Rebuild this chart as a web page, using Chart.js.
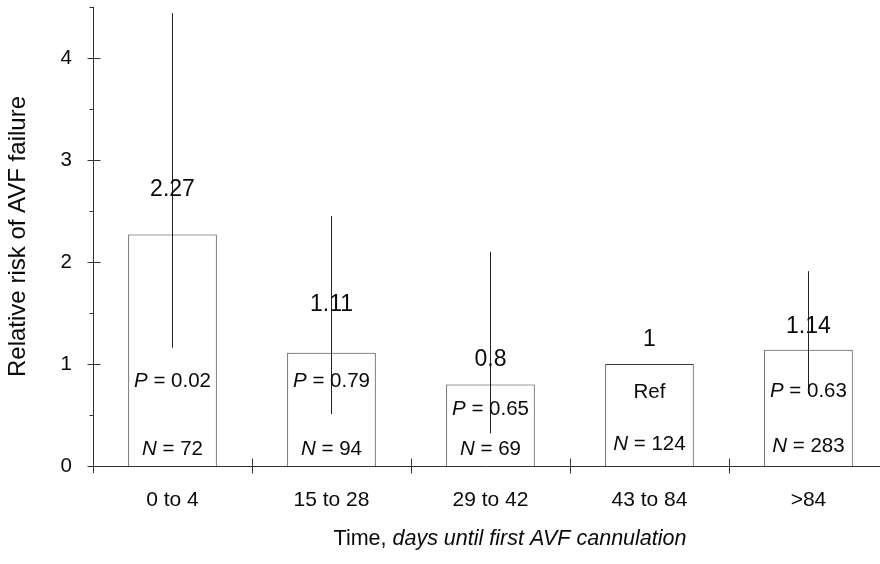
<!DOCTYPE html>
<html>
<head>
<meta charset="utf-8">
<script src="https://cdn.jsdelivr.net/npm/chart.js@4.4.1/dist/chart.umd.min.js"></script>
<style>
  html, body { margin: 0; padding: 0; background: #ffffff; }
  canvas { display: block; }
</style>
</head>
<body>
<canvas id="rr" width="880" height="564"></canvas>
<script>
// Relative risk of AVF failure by time to first cannulation
const categories   = ['0 to 4', '15 to 28', '29 to 42', '43 to 84', '>84'];
const relativeRisk = [2.27, 1.11, 0.8, 1, 1.14];
const ciLower      = [1.16, 0.51, 0.32, null, 0.71];
const ciUpper      = [4.44, 2.45, 2.10, null, 1.91];
const pValues      = ['0.02', '0.79', '0.65', null, '0.63'];
const groupSizes   = [72, 94, 69, 124, 283];

const FONT = '"Liberation Sans", Arial, Helvetica, sans-serif';
const INK = '#0a0a0a';
const LINE = '#333333';

const crisp = v => Math.round(v) + 0.5;

// Mixed-style text: italic prefix followed by upright remainder, centred on cx
function mixedText(ctx, parts, cx, baseline, size) {
  let total = 0;
  const widths = parts.map(p => {
    ctx.font = `${p.italic ? 'italic ' : ''}${size}px ${FONT}`;
    const w = ctx.measureText(p.text).width;
    total += w;
    return w;
  });
  let xPos = cx - total / 2;
  parts.forEach((p, i) => {
    ctx.font = `${p.italic ? 'italic ' : ''}${size}px ${FONT}`;
    ctx.fillText(p.text, xPos, baseline);
    xPos += widths[i];
  });
}

const figureMarks = {
  id: 'figureMarks',
  afterDatasetsDraw(chart, args, opts) {
    const { ctx, chartArea: area, scales: { x, y } } = chart;
    ctx.save();

    // axes
    ctx.strokeStyle = LINE;
    ctx.lineWidth = 1;
    const ax = crisp(area.left);
    const ay = crisp(area.bottom);
    ctx.beginPath();
    ctx.moveTo(ax, area.top);
    ctx.lineTo(ax, area.bottom + 7);
    ctx.moveTo(area.left, ay);
    ctx.lineTo(area.right, ay);
    // y tick marks: crossing at whole numbers, short outside at halves
    y.ticks.forEach(t => {
      const py = crisp(y.getPixelForValue(t.value));
      if (Number.isInteger(t.value)) {
        ctx.moveTo(ax - 6, py); ctx.lineTo(ax + 7, py);
      } else {
        ctx.moveTo(ax - 4, py); ctx.lineTo(ax, py);
      }
    });
    // x separators between groups
    for (let i = 0; i < categories.length - 1; i++) {
      const px = crisp(x.getPixelForValue(i + 0.5));
      ctx.moveTo(px, ay - 8); ctx.lineTo(px, ay + 7);
    }
    ctx.stroke();

    // confidence intervals
    ctx.strokeStyle = '#222222';
    ctx.beginPath();
    categories.forEach((c, i) => {
      if (ciLower[i] == null || ciUpper[i] == null) return;
      const px = crisp(x.getPixelForValue(i));
      ctx.moveTo(px, y.getPixelForValue(ciUpper[i]));
      ctx.lineTo(px, y.getPixelForValue(ciLower[i]));
    });
    ctx.stroke();

    // labels
    ctx.fillStyle = INK;
    ctx.textBaseline = 'alphabetic';
    ctx.textAlign = 'left';
    categories.forEach((c, i) => {
      const cx = x.getPixelForValue(i);
      const top = y.getPixelForValue(relativeRisk[i]);
      ctx.font = `23px ${FONT}`;
      const txt = String(relativeRisk[i]);
      ctx.fillText(txt, cx - ctx.measureText(txt).width / 2, top - opts.valueLift[i]);

      const pBase = area.bottom - opts.pRaise[i];
      if (pValues[i] == null) {
        mixedText(ctx, [{ text: 'Ref', italic: false }], cx, pBase, 20.5);
      } else {
        mixedText(ctx, [{ text: 'P', italic: true }, { text: ' = ' + pValues[i], italic: false }], cx, pBase, 20.5);
      }
      mixedText(ctx, [{ text: 'N', italic: true }, { text: ' = ' + groupSizes[i], italic: false }], cx, area.bottom - opts.nRaise[i], 20.5);
    });

    // horizontal axis title
    mixedText(ctx, [
      { text: 'Time, ', italic: false },
      { text: 'days until first AVF cannulation', italic: true }
    ], area.left + 417, 545, 21.5);

    ctx.restore();
  }
};

new Chart(document.getElementById('rr'), {
  type: 'bar',
  data: {
    datasets: [{
      data: categories.map((c, i) => ({ x: i, y: relativeRisk[i] })),
      backgroundColor: '#ffffff',
      borderColor: '#3a3a3a',
      borderWidth: 1,
      borderSkipped: 'bottom',
      barPercentage: 0.557,
      categoryPercentage: 1
    }]
  },
  options: {
    responsive: false,
    animation: false,
    events: [],
    layout: { padding: { top: 7, left: 0, right: 0, bottom: 0 } },
    plugins: {
      legend: { display: false },
      tooltip: { enabled: false },
      figureMarks: {
        valueLift: [38, 42, 18, 18, 17],
        pRaise: [79, 79, 51, 68, 69],
        nRaise: [11, 11, 11, 16, 14]
      }
    },
    scales: {
      x: {
        type: 'linear',
        min: -0.5,
        max: 4.45,
        offset: false,
        grid: { display: false, drawTicks: false, offset: false },
        border: { display: false },
        afterBuildTicks: s => { s.ticks = categories.map((c, i) => ({ value: i })); },
        afterFit: s => {
          s.height = 98;
          s.paddingLeft = 0; s.paddingRight = 0; s.paddingTop = 0; s.paddingBottom = 0;
        },
        ticks: {
          autoSkip: false,
          maxRotation: 0,
          minRotation: 0,
          padding: 22,
          color: INK,
          font: { family: FONT, size: 21 },
          callback: (v, idx) => categories[idx]
        }
      },
      y: {
        type: 'linear',
        min: 0,
        max: 4.5,
        grid: { display: false, drawTicks: false },
        border: { display: false },
        afterFit: s => {
          s.width = 93;
          s.paddingLeft = 0; s.paddingRight = 0; s.paddingTop = 0; s.paddingBottom = 0;
        },
        ticks: {
          stepSize: 0.5,
          padding: 21,
          color: INK,
          font: { family: FONT, size: 20.5 },
          callback: v => (Number.isInteger(v) ? String(v) : '')
        },
        title: {
          display: true,
          text: 'Relative risk of AVF failure',
          color: INK,
          font: { family: FONT, size: 24, lineHeight: 1.2 },
          padding: { top: 4, bottom: 0 }
        }
      }
    }
  },
  plugins: [figureMarks]
});
</script>
</body>
</html>
